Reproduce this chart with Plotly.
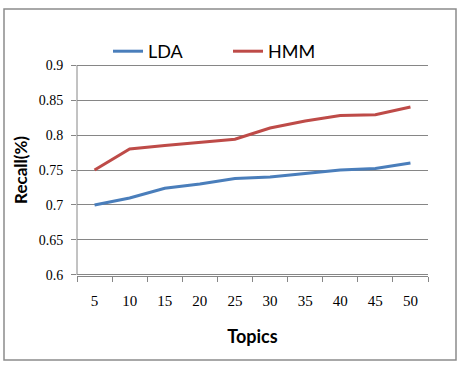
import plotly.graph_objects as go

topics = ["5", "10", "15", "20", "25", "30", "35", "40", "45", "50"]
lda = [0.700, 0.710, 0.724, 0.730, 0.738, 0.740, 0.745, 0.750, 0.752, 0.760]
hmm = [0.750, 0.780, 0.785, 0.790, 0.794, 0.810, 0.820, 0.828, 0.829, 0.840]
y_ticks = [0.6, 0.65, 0.7, 0.75, 0.8, 0.85, 0.9]
y_tick_text = ["0.6", "0.65", "0.7", "0.75", "0.8", "0.85", "0.9"]

W, H = 462, 366
L, R, T, B = 77, 34, 64, 90
pw, ph = W - L - R, H - T - B

fig = go.Figure()
fig.add_trace(go.Scatter(x=topics, y=lda, mode="lines", name="LDA",
                         line=dict(color="#4A7EBB", width=3)))
fig.add_trace(go.Scatter(x=topics, y=hmm, mode="lines", name="HMM",
                         line=dict(color="#BE4B48", width=3)))

def px(x):
    return (x - L) / pw

def py(y):
    return (H - B - y) / ph

fig.add_shape(type="rect", xref="paper", yref="paper",
              x0=px(4), x1=px(456), y0=py(360), y1=py(9),
              line=dict(color="#8C8C8C", width=1.5), layer="below")

sans = "Lato, Liberation Sans, sans-serif"
serif = "Liberation Serif, serif"

fig.update_layout(
    width=W, height=H,
    margin=dict(l=L, r=R, t=T, b=B),
    paper_bgcolor="white", plot_bgcolor="white",
    showlegend=True,
    legend=dict(orientation="h", x=px(108), y=py(33), xanchor="left", yanchor="top",
                font=dict(family=sans, size=18, color="black"),
                bgcolor="rgba(0,0,0,0)", entrywidth=75, entrywidthmode="pixels",
                tracegroupgap=0),
    xaxis=dict(type="category", showgrid=False, showline=True, linecolor="#868686",
               linewidth=1, ticks="outside", tickson="boundaries", ticklen=5,
               tickcolor="#868686", ticklabelstandoff=11,
               tickfont=dict(family=serif, size=15, color="black"),
               title=dict(text="<b>Topics</b>", standoff=22,
                          font=dict(family=sans, size=18, color="black")),
               range=[-0.5, 9.5], fixedrange=True),
    yaxis=dict(range=[0.5985, 0.9015], tickvals=y_ticks, ticktext=y_tick_text,
               showgrid=True, gridcolor="#868686", gridwidth=1,
               showline=False,
               ticks="outside", ticklen=5, tickcolor="#868686", ticklabelstandoff=5,
               tickfont=dict(family=serif, size=14, color="black"),
               title=dict(text="<b>Recall(%)</b>", standoff=6,
                          font=dict(family=sans, size=17, color="black")),
               zeroline=False, fixedrange=True),
)

fig.add_shape(type="line", xref="paper", yref="y", x0=0, x1=0,
              y0=y_ticks[0], y1=y_ticks[-1],
              line=dict(color="#868686", width=1))

fig.write_html("out.html")
